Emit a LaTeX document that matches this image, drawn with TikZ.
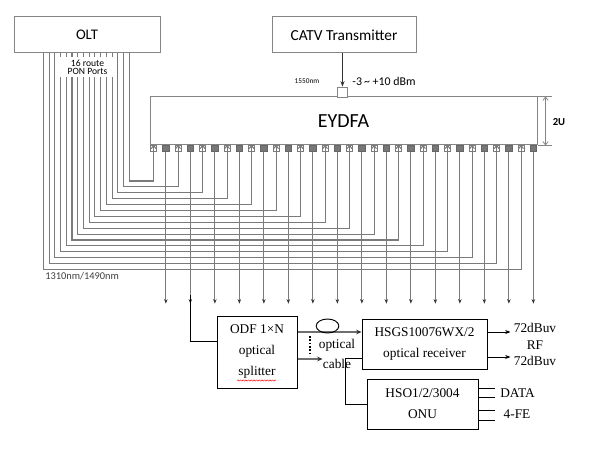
\documentclass[tikz,border=0pt]{standalone}
\usepackage{fontspec}
\setmainfont{Liberation Serif}
\newfontfamily\calfnt{Carlito}
\usetikzlibrary{arrows.meta,decorations.pathmorphing,shapes.geometric}
\definecolor{wiregray}{HTML}{7B7B7B}
\definecolor{boxgray}{HTML}{858585}
\definecolor{portgray}{HTML}{777777}
\definecolor{cablegray}{HTML}{6E6E6E}
\tikzset{
  wire/.style={draw=wiregray, line width=0.8pt},
  gbox/.style={draw=boxgray, line width=0.75pt, fill=white, inner sep=0pt, font=\calfnt},
  inport/.style={draw=wiregray, fill=white, minimum width=4.8pt, minimum height=5pt, inner sep=0pt, line width=0.5pt},
  outport/.style={draw=black!60, fill=portgray, minimum width=4.8pt, minimum height=5pt, inner sep=0pt, line width=0.5pt},
  bbox/.style={draw=black, line width=0.75pt, inner sep=0pt, align=center, font=\fontsize{10}{15.75}\selectfont},
  stl/.style={font=\fontsize{10}{15}\selectfont, inner sep=0pt, align=center},
  intip/.style={-{Straight Barb[length=2.2pt,width=3.6pt]}},
  outtip/.style={-{Stealth[length=3.4pt,width=2.6pt,color=black!80]}},
  btip/.style={-{Stealth[length=4pt,width=3pt]}}
}
\begin{document}
\begin{tikzpicture}[x=0.75pt,y=-0.75pt]
\useasboundingbox[fill=white] (0,0) rectangle (589,449);

% top boxes
\node[gbox, minimum width=109.5pt, minimum height=27pt, font=\calfnt\fontsize{11}{13}\selectfont] (OLT) at (87,35) {OLT};
\node[gbox, minimum width=108pt, minimum height=27pt, font=\calfnt\fontsize{11.5}{13}\selectfont] (CATV) at (344,35) {CATV Transmitter};
\node[gbox, minimum width=290.25pt, minimum height=36pt, font=\calfnt\fontsize{15}{18}\selectfont] (EY) at (343.5,121) {EYDFA};
\node[draw=boxgray, fill=white, line width=0.6pt, minimum width=8pt, minimum height=7.5pt, inner sep=0pt] (inb) at (342.5,92) {};

% CATV feed
\draw[line width=0.6pt, draw=black!80, -{Stealth[length=4pt,width=3pt]}] (inb.north |- CATV.south) -- (inb.north);
\node[font=\calfnt\fontsize{5.5}{6}\selectfont, inner sep=0pt] (l1550) at (307,81) {1550nm};
\node[font=\calfnt\fontsize{8.9}{10}\selectfont, inner sep=0pt] (ldbm) at (384,81) {-3\,\textasciitilde\ +10 dBm};

% 2U dimension
\draw[draw=boxgray, line width=0.6pt] (EY.north east) -- ++(14,0) coordinate (t1);
\draw[draw=boxgray, line width=0.6pt] (EY.south east) -- ++(14,0) coordinate (t2);
\draw[draw=boxgray, line width=0.6pt, {Straight Barb[length=2.5pt,width=4pt]}-{Straight Barb[length=2.5pt,width=4pt]}] ([xshift=6pt]EY.north east) -- ([xshift=6pt]EY.south east);
\node[font=\calfnt\bfseries\fontsize{8}{9}\selectfont, inner sep=0pt] (l2u) at (559,122) {2U};

% ports
\foreach \i in {0,...,15}{
  \pgfmathsetmacro\xa{153.6+24.5*\i}
  \pgfmathsetmacro\xb{165.85+24.5*\i}
  \node[inport] (in\i) at (\xa,148.5) {};
  \node[outport] (out\i) at (\xb,148.5) {};
}

% OLT to EYDFA inputs
\foreach \i in {0,...,15}{
  \pgfmathsetmacro\xv{129.3-5.73*\i}
  \pgfmathsetmacro\dy{128+5.9*\i}
  \coordinate (o\i) at (\xv,53);
  \draw[wire, intip] (o\i) -- ++(0,\dy) -| (in\i.north);
}
\node[fill=white, inner sep=0pt, minimum width=43pt, minimum height=15pt, align=center, font=\calfnt\fontsize{7.2}{6.3}\selectfont] (pon) at (87.5,67) {16 route\\PON Ports};
\node[font=\calfnt\fontsize{7.8}{9}\selectfont, text=black!75, inner sep=0pt, anchor=west] (lwave) at (45,276.5) {1310nm/1490nm};

% EYDFA outputs
\foreach \i in {0,...,15}{
  \draw[wire, outtip] (out\i.south) -- ++(0,151.5);
}

% bottom part
\node[bbox, minimum width=60pt, minimum height=54pt] (ODF) at (257,352) {ODF 1×N\\optical\\splitter};
\node[bbox, minimum width=93.75pt, minimum height=37.5pt] (RX) at (424.5,344) {HSGS10076WX/2\\optical receiver};
\node[bbox, minimum width=83.25pt, minimum height=37.5pt] (ONU) at (422.5,404) {HSO1/2/3004\\ONU};
\draw[red, line width=0.35pt, decorate, decoration={snake, amplitude=0.5pt, segment length=2pt}] (237,380.5) -- (276,380.5);

% tap from port output to splitter
\coordinate (tap) at (out1 |- 0,295);
\draw[line width=0.75pt] (tap) |- ([yshift=8.25pt]ODF.west);

% optical cable
\draw[draw=cablegray, line width=1.4pt, -{Stealth[length=4pt,width=3.5pt,color=black!80]}] ([yshift=15pt]ODF.east) coordinate (a1) -- (a1 -| RX.west);
\draw[draw=cablegray, line width=1.1pt, -{Stealth[length=4pt,width=3.5pt,color=black!80]}] ([yshift=-5.25pt]ODF.east) -- ++(25,0) coordinate (a2);
\node[draw=black, ellipse, line width=0.7pt, minimum width=17pt, minimum height=10.5pt, inner sep=0pt] (fib) at (327.5,326) {};
\coordinate (d1) at (310,336);
\coordinate (d2) at (310,356);
\draw[line width=1.3pt, dash pattern=on 1.2pt off 1.3pt] (d1) -- (d2);
\node[stl] (cab) at (337,354) {optical\\cable};

% receiver outputs
\draw[line width=0.75pt, btip] ([yshift=9pt]RX.east) -- ++(23,0) coordinate (r1);
\draw[line width=0.75pt, btip] ([yshift=-9.75pt]RX.east) -- ++(23,0) coordinate (r2);
\node[stl, font=\fontsize{10}{12.2}\selectfont] (rf) at (535,344.5) {72dBuv\\RF\\72dBuv};

% receiver to ONU
\draw[line width=0.75pt] ([yshift=-10.5pt]RX.west) -- ++(-16,0) |- (ONU.west);

% ONU outputs
\foreach \s/\n in {12pt/p1,5.25pt/p2,-4.5pt/p3,-12pt/p4}{
  \draw[line width=0.75pt] ([yshift=\s]ONU.east) -- ++(16,0) coordinate (\n);
}
\node[stl] (ldata) at (517.5,393) {DATA};
\node[stl] (lfe) at (517,414) {4-FE};
\end{tikzpicture}
\end{document}
